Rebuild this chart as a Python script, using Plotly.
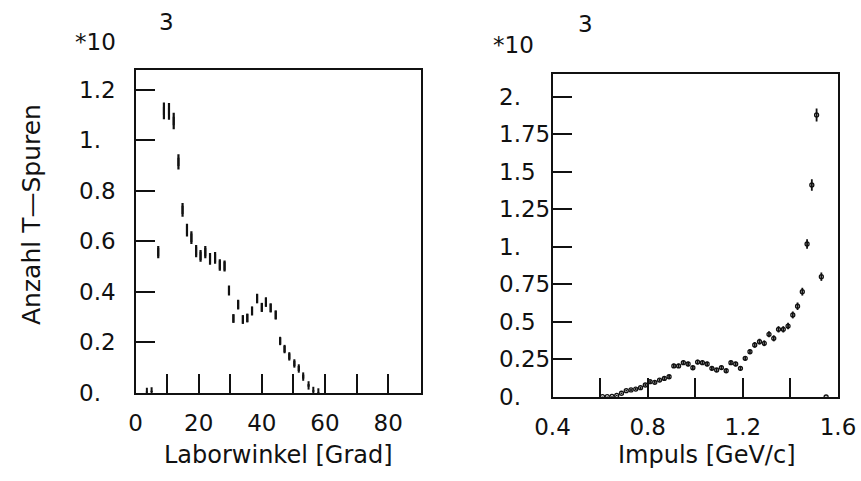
import plotly.graph_objects as go

# Left panel: track counts vs. laboratory angle (units of 10^3)
winkel = [3.6, 5.1, 7.2, 9.0, 10.6, 12.1, 13.6, 14.9, 16.3, 17.7, 19.2, 20.6, 22.1,
          23.6, 25.2, 26.7, 28.2, 29.6, 31.0, 32.5, 34.0, 35.4, 36.9, 38.5, 40.0,
          41.3, 42.8, 44.4, 45.8, 47.2, 48.7, 50.3, 51.7, 53.1, 54.8, 56.3, 57.9]
anzahl_w = [0.004, 0.006, 0.558, 1.117, 1.115, 1.077, 0.915, 0.725, 0.645, 0.615,
            0.562, 0.543, 0.558, 0.531, 0.535, 0.507, 0.503, 0.406, 0.295, 0.350,
            0.291, 0.297, 0.325, 0.374, 0.339, 0.360, 0.337, 0.309, 0.206, 0.174,
            0.145, 0.117, 0.097, 0.065, 0.030, 0.008, 0.002]
fehler_w = [0.002, 0.0025, 0.024, 0.033, 0.033, 0.033, 0.030, 0.027, 0.025, 0.025,
            0.024, 0.023, 0.024, 0.023, 0.023, 0.023, 0.022, 0.020, 0.017, 0.019,
            0.017, 0.017, 0.018, 0.019, 0.018, 0.019, 0.018, 0.018, 0.014, 0.013,
            0.012, 0.011, 0.010, 0.008, 0.005, 0.003, 0.0015]

# Right panel: track counts vs. momentum (units of 10^3)
impuls = [0.61, 0.63, 0.65, 0.67, 0.69, 0.71, 0.73, 0.75, 0.77, 0.79, 0.81, 0.83,
          0.85, 0.87, 0.89, 0.91, 0.93, 0.95, 0.97, 0.99, 1.01, 1.03, 1.05, 1.07,
          1.09, 1.11, 1.13, 1.15, 1.17, 1.19, 1.21, 1.23, 1.25, 1.27, 1.29, 1.31,
          1.33, 1.35, 1.37, 1.39, 1.41, 1.43, 1.45, 1.47, 1.49, 1.51, 1.53, 1.55]
anzahl_p = [0.003, 0.003, 0.004, 0.010, 0.025, 0.042, 0.047, 0.053, 0.062, 0.080,
            0.102, 0.098, 0.113, 0.124, 0.135, 0.207, 0.207, 0.229, 0.220, 0.195,
            0.233, 0.229, 0.220, 0.191, 0.180, 0.196, 0.175, 0.229, 0.220, 0.191,
            0.258, 0.302, 0.347, 0.369, 0.358, 0.418, 0.391, 0.451, 0.451, 0.473,
            0.547, 0.605, 0.702, 1.020, 1.413, 1.880, 0.802, 0.0]
fehler_p = [0.002, 0.002, 0.002, 0.003, 0.005, 0.006, 0.007, 0.007, 0.008, 0.009,
            0.010, 0.010, 0.011, 0.011, 0.012, 0.014, 0.014, 0.015, 0.015, 0.014,
            0.015, 0.015, 0.015, 0.014, 0.013, 0.014, 0.013, 0.015, 0.015, 0.014,
            0.016, 0.017, 0.019, 0.019, 0.019, 0.020, 0.020, 0.021, 0.021, 0.022,
            0.023, 0.025, 0.026, 0.032, 0.038, 0.043, 0.028, 0.001]

# Axis ticks and labels
w_tickvals = [0, 10, 20, 30, 40, 50, 60, 70, 80]
w_ticktext = ["0", "", "20", "", "40", "", "60", "", "80"]
aw_tickvals = [0, 0.2, 0.4, 0.6, 0.8, 1.0, 1.2]
aw_ticktext = ["0.", "0.2", "0.4", "0.6", "0.8", "1.", "1.2"]
p_tickvals = [0.4, 0.6, 0.8, 1.0, 1.2, 1.4, 1.6]
p_ticktext = ["0.4", "", "0.8", "", "1.2", "", "1.6"]
ap_tickvals = [0, 0.25, 0.5, 0.75, 1.0, 1.25, 1.5, 1.75, 2.0]
ap_ticktext = ["0.", "0.25", "0.5", "0.75", "1.", "1.25", "1.5", "1.75", "2."]

W, H = 861, 481
FONT = "DejaVu Sans"
INK = "#111111"

fig = go.Figure()

fig.add_trace(go.Scatter(
    x=winkel, y=anzahl_w, mode="markers", xaxis="x", yaxis="y",
    marker=dict(symbol="line-ns", size=6, line=dict(width=2, color=INK), color=INK),
    error_y=dict(type="data", array=fehler_w, visible=True, width=0,
                 thickness=2.2, color=INK),
    showlegend=False))

fig.add_trace(go.Scatter(
    x=impuls, y=anzahl_p, mode="markers", xaxis="x2", yaxis="y2",
    marker=dict(symbol="circle-open", size=4, color=INK,
                line=dict(width=1.3, color=INK)),
    error_y=dict(type="data", array=fehler_p, visible=True, width=0,
                 thickness=1.8, color=INK),
    showlegend=False))


def px_x(a):
    return a / W


def px_y(b):
    return 1 - b / H


axis_common = dict(
    showline=True, linecolor=INK, linewidth=2, mirror=True,
    ticks="inside", ticklen=19, tickwidth=2, tickcolor=INK,
    showgrid=False, zeroline=False, automargin=False,
    tickfont=dict(family=FONT, size=23, color=INK),
    tickmode="array",
)

fig.update_layout(
    width=W, height=H,
    margin=dict(l=0, r=0, t=0, b=0, autoexpand=False),
    paper_bgcolor="white", plot_bgcolor="white",
    xaxis=dict(domain=[px_x(135.5), px_x(421)], range=[0, 90.4],
               tickvals=w_tickvals, ticktext=w_ticktext, anchor="y",
               ticklabelstandoff=8, **axis_common),
    yaxis=dict(domain=[px_y(393), px_y(70)], range=[0, 1.279],
               tickvals=aw_tickvals, showticklabels=False, anchor="x",
               **axis_common),
    xaxis2=dict(domain=[px_x(552.5), px_x(838)], range=[0.4, 1.6],
                tickvals=p_tickvals, ticktext=p_ticktext, anchor="y2",
                ticklabelstandoff=8, **axis_common),
    yaxis2=dict(domain=[px_y(397), px_y(74)], range=[0, 2.153],
                tickvals=ap_tickvals, showticklabels=False, anchor="x2",
                **axis_common),
)

label_font = dict(family=FONT, size=23, color=INK)

# y tick labels are left-aligned in a column beside each frame
for v, t in zip(aw_tickvals, aw_ticktext):
    fig.add_annotation(xref="paper", yref="y", x=px_x(77), y=v, text=t,
                       showarrow=False, xanchor="left", yanchor="middle",
                       font=label_font)
for v, t in zip(ap_tickvals, ap_ticktext):
    fig.add_annotation(xref="paper", yref="y2", x=px_x(497), y=v, text=t,
                       showarrow=False, xanchor="left", yanchor="middle",
                       font=label_font)

annotations = [
    dict(text="Anzahl T\u2014Spuren", x=px_x(31), y=px_y(215), textangle=-90,
         font=dict(family=FONT, size=25, color=INK)),
    dict(text="Laborwinkel [Grad]", x=px_x(278), y=px_y(455),
         font=dict(family=FONT, size=24, color=INK)),
    dict(text="Impuls [GeV/c]", x=px_x(707), y=px_y(455),
         font=dict(family=FONT, size=24, color=INK)),
    dict(text="*10", x=px_x(95), y=px_y(42), font=label_font),
    dict(text="3", x=px_x(166), y=px_y(22), font=label_font),
    dict(text="*10", x=px_x(513), y=px_y(45), font=label_font),
    dict(text="3", x=px_x(585), y=px_y(24), font=label_font),
]
for a in annotations:
    fig.add_annotation(xref="paper", yref="paper", showarrow=False,
                       xanchor="center", yanchor="middle", **a)

fig.write_html("out.html")
